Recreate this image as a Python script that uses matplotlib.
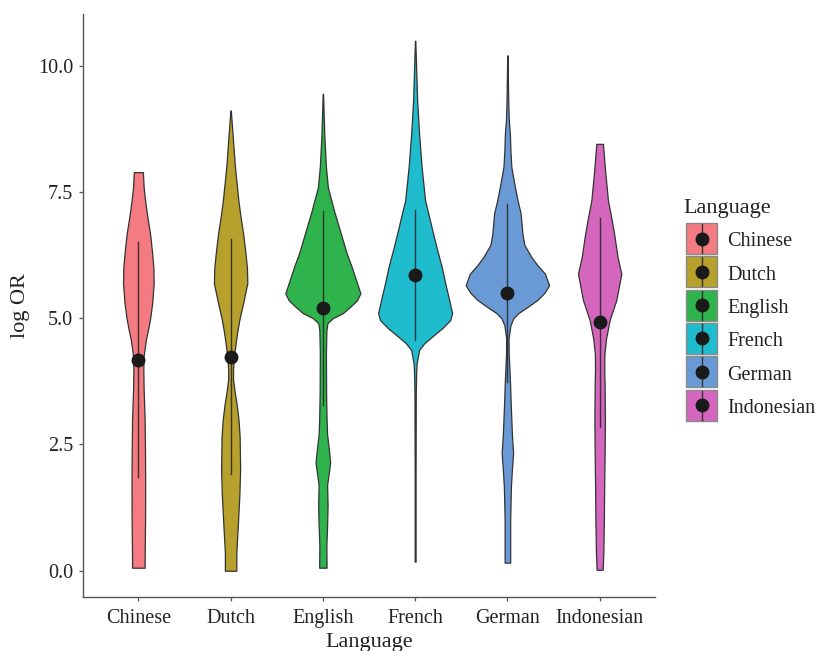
import matplotlib
matplotlib.use("Agg")
import matplotlib.pyplot as plt
from matplotlib.patches import Rectangle

plt.rcParams['font.family'] = ['Liberation Serif', 'DejaVu Serif']

languages = ['Chinese', 'Dutch', 'English', 'French', 'German', 'Indonesian']
colors = ['#F37B81', '#B8A02C', '#2EB34D', '#1FBCCE', '#6A9AD6', '#D466BD']

# mean and standard deviation of log OR per language
means = [4.18, 4.24, 5.20, 5.85, 5.49, 4.92]
sds = [2.32, 2.33, 1.92, 1.29, 1.76, 2.07]

# violin outlines: log OR values and half-widths of the density
chinese_y = [0.06, 0.4, 1.0, 1.7, 2.4, 3.0, 3.6, 4.0, 4.25, 4.57, 4.8, 5.0, 5.3,
             5.69, 6.0, 6.35, 6.67, 7.0, 7.33, 7.6, 7.89]
chinese_w = [0.068, 0.069, 0.073, 0.074, 0.072, 0.068, 0.057, 0.054, 0.057, 0.081,
             0.108, 0.128, 0.150, 0.166, 0.163, 0.146, 0.127, 0.098, 0.073, 0.057, 0.049]

dutch_y = [0.0, 0.35, 1.0, 1.5, 2.0, 2.65, 3.0, 3.3, 3.55, 3.8, 4.0, 4.23, 4.5, 4.75,
           5.0, 5.3, 5.69, 6.0, 6.35, 6.67, 7.0, 7.33, 7.99, 8.5, 9.11]
dutch_w = [0.062, 0.062, 0.081, 0.095, 0.103, 0.098, 0.085, 0.065, 0.043, 0.026, 0.027,
           0.036, 0.054, 0.074, 0.098, 0.136, 0.181, 0.177, 0.157, 0.136, 0.108, 0.084,
           0.047, 0.027, 0.002]

english_y = [0.06, 0.5, 0.9, 1.3, 1.7, 1.95, 2.15, 2.4, 2.7, 3.0, 3.5, 4.3, 4.75, 4.9,
             5.0, 5.1, 5.22, 5.35, 5.49, 5.7, 6.0, 6.3, 6.67, 7.1, 7.59, 8.0, 8.6, 9.44]
english_w = [0.040, 0.038, 0.046, 0.051, 0.046, 0.065, 0.079, 0.065, 0.046, 0.040, 0.035,
             0.033, 0.038, 0.049, 0.108, 0.217, 0.293, 0.369, 0.407, 0.369, 0.315, 0.255,
             0.195, 0.125, 0.054, 0.033, 0.016, 0.002]

french_y = [0.18, 2.0, 3.5, 3.9, 4.1, 4.37, 4.5, 4.63, 4.8, 4.96, 5.1, 5.36, 5.7, 6.0,
            6.35, 6.67, 7.0, 7.33, 8.0, 8.65, 9.3, 10.49]
french_w = [0.005, 0.005, 0.007, 0.011, 0.016, 0.043, 0.098, 0.181, 0.293, 0.380, 0.401,
            0.369, 0.325, 0.290, 0.239, 0.195, 0.152, 0.108, 0.070, 0.043, 0.022, 0.002]

german_y = [0.16, 0.6, 1.0, 1.66, 2.0, 2.33, 2.7, 2.98, 3.3, 3.64, 4.0, 4.3, 4.6, 4.86,
            5.0, 5.1, 5.22, 5.36, 5.5, 5.65, 5.88, 6.05, 6.21, 6.45, 6.67, 7.07, 7.35,
            7.6, 7.99, 8.3, 8.65, 8.9, 9.3, 10.2]
german_w = [0.030, 0.030, 0.030, 0.038, 0.049, 0.062, 0.049, 0.043, 0.036, 0.030, 0.022,
            0.014, 0.013, 0.033, 0.065, 0.119, 0.217, 0.325, 0.401, 0.452, 0.407, 0.325,
            0.260, 0.184, 0.163, 0.144, 0.108, 0.081, 0.043, 0.033, 0.027, 0.016, 0.009,
            0.002]

indonesian_y = [0.02, 0.35, 1.0, 1.66, 2.3, 2.98, 3.64, 4.0, 4.3, 4.6, 4.96, 5.36, 5.88,
                6.2, 6.67, 7.0, 7.33, 7.9, 8.45]
indonesian_w = [0.033, 0.040, 0.046, 0.049, 0.054, 0.057, 0.054, 0.050, 0.052, 0.070,
                0.108, 0.181, 0.235, 0.195, 0.157, 0.125, 0.090, 0.060, 0.036]

profiles = [(chinese_y, chinese_w), (dutch_y, dutch_w), (english_y, english_w),
            (french_y, french_w), (german_y, german_w), (indonesian_y, indonesian_w)]

W, H = 818, 651
fig = plt.figure(figsize=(W / 100, H / 100), dpi=100)
ax = fig.add_axes([83 / W, 1 - 597 / H, (655 - 83) / W, (597 - 14) / H])

for i, (ys, ws) in enumerate(profiles):
    x = i + 1
    ax.fill_betweenx(ys, [x - w for w in ws], [x + w for w in ws],
                     facecolor=colors[i], edgecolor='#333333', linewidth=0.9, zorder=2)
    ax.plot([x, x], [means[i] - sds[i], means[i] + sds[i]],
            color='#222222', linewidth=1.0, alpha=0.85, zorder=3)
    ax.plot(x, means[i], 'o', markersize=9, color='#1a1a1a', zorder=4)

ax.set_xlim(0.4, 6.6)
ax.set_ylim(-0.52, 11.02)
ax.set_xticks(range(1, 7))
ax.set_xticklabels(languages)
ax.set_yticks([0, 2.5, 5, 7.5, 10])
ax.set_yticklabels(['0.0', '2.5', '5.0', '7.5', '10.0'])
ax.tick_params(labelsize=14.5, length=3, width=0.9, color='#555555',
               labelcolor='#222222', pad=4)
ax.tick_params(axis='x', pad=5.5)
for side in ['top', 'right']:
    ax.spines[side].set_visible(False)
for side in ['left', 'bottom']:
    ax.spines[side].set_color('#555555')
    ax.spines[side].set_linewidth(1.0)
ax.set_xlabel('Language', fontsize=16, color='#222222', labelpad=4)
ax.set_ylabel('log OR', fontsize=16, color='#222222', labelpad=6)

# legend drawn in pixel coordinates
lax = fig.add_axes([0, 0, 1, 1])
lax.set_xlim(0, W)
lax.set_ylim(H, 0)
lax.axis('off')
lax.text(683, 206, 'Language', fontsize=16, color='#222222',
         va='center_baseline', ha='left')
key_top = 223
key_size = 31
key_step = 33.3
for i, lang in enumerate(languages):
    top = key_top + i * key_step
    cy = top + key_size / 2
    lax.add_patch(Rectangle((686, top), key_size, key_size, facecolor=colors[i],
                            edgecolor='#8a8a8a', linewidth=1.0))
    lax.plot([686 + key_size / 2] * 2, [top + 1, top + key_size - 1],
             color='#222222', linewidth=1.0, alpha=0.85)
    lax.plot(686 + key_size / 2, cy, 'o', markersize=9, color='#1a1a1a')
    lax.text(727, cy + 1, lang, fontsize=14.5, color='#222222',
             va='center_baseline', ha='left')

fig.savefig('out.png', dpi=100)
